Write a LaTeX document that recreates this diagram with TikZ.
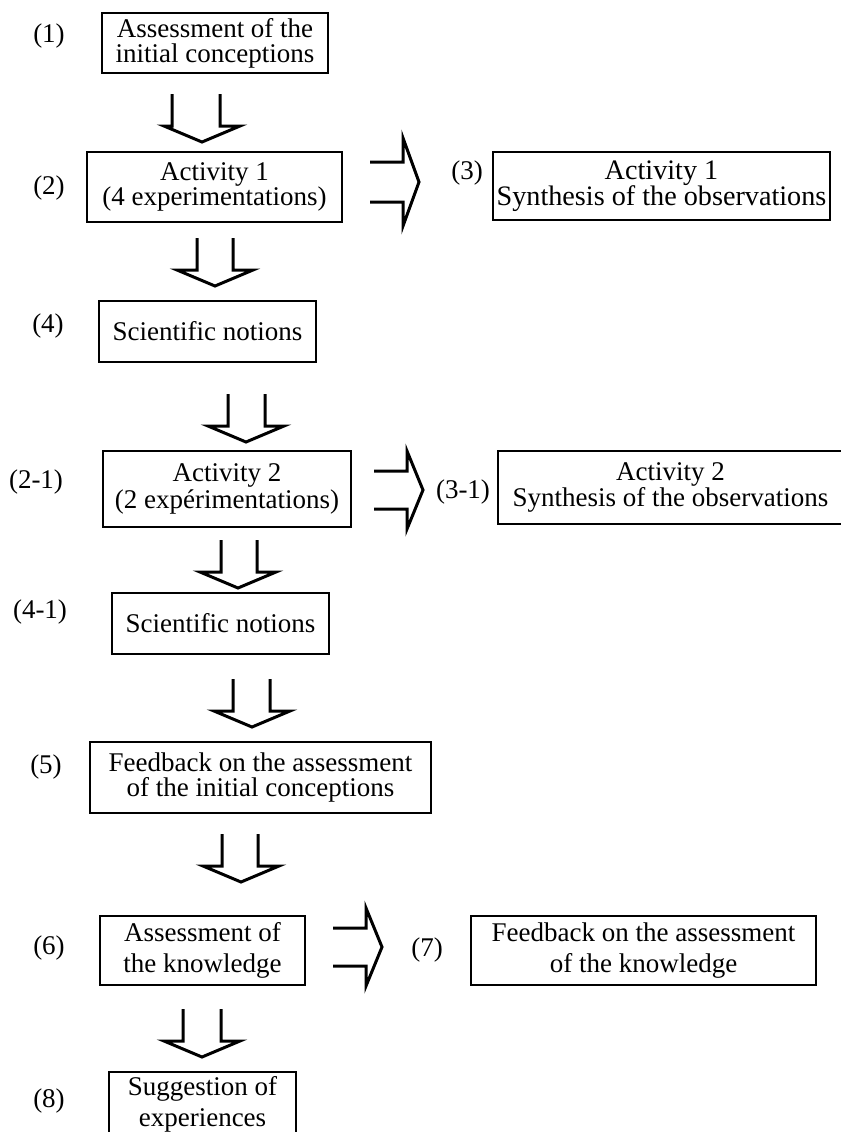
\documentclass[tikz,border=0pt]{standalone}
\usepackage{fontspec}
\setmainfont{Liberation Serif}
\begin{document}
\begin{tikzpicture}[
  x=0.5pt, y=-0.5pt,
  box/.style={draw, line width=0.9pt, inner sep=0pt, align=center,
              font=\fontsize{13.5pt}{12.5pt}\selectfont},
  loosebox/.style={box, font=\fontsize{13.5pt}{15.5pt}\selectfont},
  tag/.style={inner sep=0pt, font=\fontsize{13.5pt}{15pt}\selectfont},
  blockline/.style={line width=1.5pt, line join=miter},
  pics/downblock/.style 2 args={code={
    \draw[blockline] (#1,-48) -- (#1,-16) -- (-38,-16) -- (0,0)
                     -- (38,-16) -- (#2,-16) -- (#2,-48);
  }},
  pics/rightblock/.style 2 args={code={
    \draw[blockline] (-49,-#1) -- (-16,-#1) -- (-16,-#2) -- (0,0)
                     -- (-16,#2) -- (-16,#1) -- (-49,#1);
  }},
]
\useasboundingbox (0,0) rectangle (841,1132);
\clip (0,0) rectangle (841,1132);

% steps
\node[box, minimum width=113pt, minimum height=30pt] (b1) at (215,43)
  {Assessment of the\\initial conceptions};
\node[box, line width=1.3pt, minimum width=127.5pt, minimum height=35pt] (b2) at (214.5,187)
  {Activity 1\\(4 experimentations)};
\node[box, minimum width=168.5pt, minimum height=34pt,
      font=\fontsize{14.1pt}{13pt}\selectfont] (b3) at (661.5,186)
  {Activity 1\\Synthesis of the observations};
\node[box, minimum width=108.5pt, minimum height=30.5pt] (b4) at (207.5,331.5)
  {Scientific notions};
\node[box, minimum width=124pt, minimum height=38pt,
      font=\fontsize{13.5pt}{13.5pt}\selectfont] (b21) at (227,489)
  {Activity 2\\(2 expérimentations)};
\node[box, minimum width=172.5pt, minimum height=36.5pt,
      font=\fontsize{13.5pt}{13pt}\selectfont] (b31) at (670.5,487.5)
  {Activity 2\\Synthesis of the observations};
\node[box, minimum width=108.5pt, minimum height=30.5pt] (b41) at (220.5,623.5)
  {Scientific notions};
\node[box, minimum width=170.5pt, minimum height=35.5pt] (b5) at (260.5,777.5)
  {Feedback on the assessment\\of the initial conceptions};
\node[loosebox, minimum width=102.5pt, minimum height=34.5pt] (b6) at (202.5,950.5)
  {Assessment of\\the knowledge};
\node[loosebox, minimum width=172.5pt, minimum height=34.5pt] (b7) at (643.5,950.5)
  {Feedback on the assessment\\of the knowledge};
\node[loosebox, minimum width=93.5pt, minimum height=32pt] (b8) at (202.5,1104)
  {Suggestion of\\experiences};

% step numbers
\node[tag] (t1)  at (49,36)    {(1)};
\node[tag] (t2)  at (49,188)   {(2)};
\node[tag] (t3)  at (467,173)  {(3)};
\node[tag] (t4)  at (48,326)   {(4)};
\node[tag] (t21) at (36,482)   {(2-1)};
\node[tag] (t31) at (463,492)  {(3-1)};
\node[tag] (t41) at (40,612)   {(4-1)};
\node[tag] (t5)  at (46,767)   {(5)};
\node[tag] (t6)  at (49,948)   {(6)};
\node[tag] (t7)  at (427,950)  {(7)};
\node[tag] (t8)  at (49,1101)  {(8)};

% block arrows (tips)
\coordinate (a1) at (202,142);
\coordinate (a2) at (215,286);
\coordinate (a3) at (246,442);
\coordinate (a4) at (238,588);
\coordinate (a5) at (252,727);
\coordinate (a6) at (241,882);
\coordinate (a7) at (202,1057);
\coordinate (r1) at (419,182);
\coordinate (r2) at (423,490);
\coordinate (r3) at (382,947);

\pic at (a1) {downblock={-30}{18}};
\pic at (a2) {downblock={-18}{18}};
\pic at (a3) {downblock={-18}{19}};
\pic at (a4) {downblock={-17}{19}};
\pic at (a5) {downblock={-19}{18}};
\pic at (a6) {downblock={-19}{17}};
\pic at (a7) {downblock={-19}{19}};
\pic at (r1) {rightblock={20}{44}};
\pic at (r2) {rightblock={19}{39}};
\pic at (r3) {rightblock={19}{39}};
\end{tikzpicture}
\end{document}
